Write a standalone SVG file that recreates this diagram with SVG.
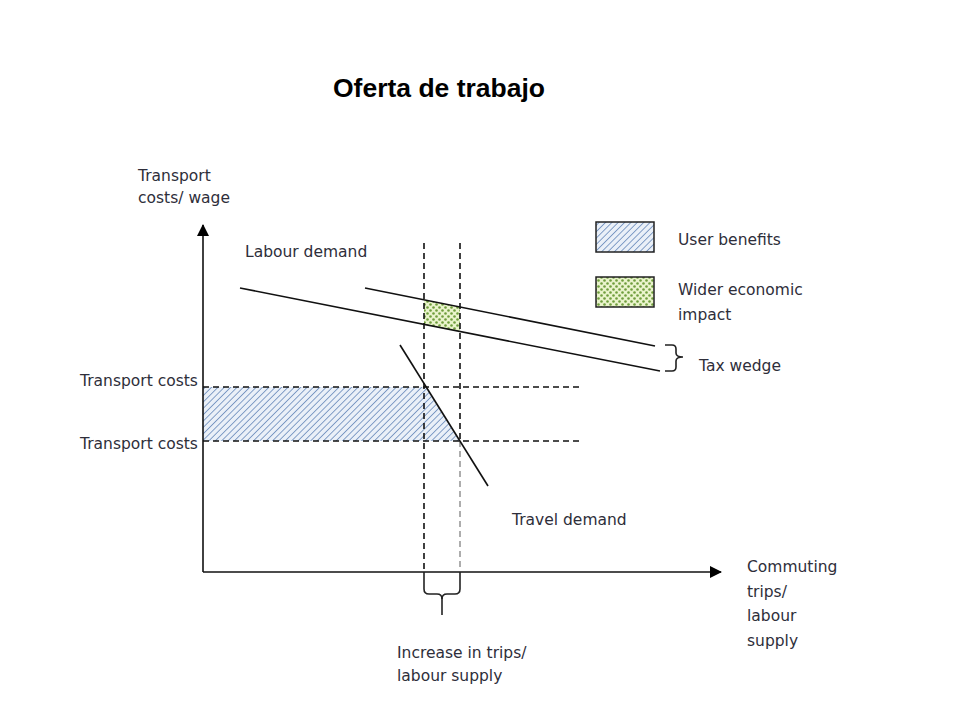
<svg xmlns="http://www.w3.org/2000/svg" width="960" height="720" viewBox="0 0 960 720">
<style>
  text { font-family: "DejaVu Sans", Verdana, sans-serif; font-size: 15.5px; fill: #2e2e3a; }
  .title { font-family: "Liberation Sans", Arial, sans-serif; font-weight: bold; font-size: 26.5px; fill: #000; }
  .solid { stroke: #111; stroke-width: 1.6; fill: none; }
  .dash { stroke: #111; stroke-width: 1.6; fill: none; stroke-dasharray: 6 4; }
  .dashg { stroke: #999; stroke-width: 1.6; fill: none; stroke-dasharray: 6 4; }
  .brace { stroke: #222; stroke-width: 1.6; fill: none; }
</style>
<defs>
  <pattern id="hatch" width="4.5" height="4.5" patternUnits="userSpaceOnUse" patternTransform="rotate(45)">
    <rect width="4.5" height="4.5" fill="#eaf0f8"/>
    <line x1="0" y1="0" x2="0" y2="4.5" stroke="#7896c2" stroke-width="1.8"/>
  </pattern>
  <pattern id="dots" width="6" height="6" patternUnits="userSpaceOnUse">
    <rect width="6" height="6" fill="#eaf4cc"/>
    <circle cx="1.5" cy="1.5" r="1.3" fill="#6f9e3c"/>
    <circle cx="4.5" cy="4.5" r="1.3" fill="#6f9e3c"/>
  </pattern>
  <marker id="arrow" viewBox="0 0 12 12" refX="11" refY="6" markerWidth="12" markerHeight="12" markerUnits="userSpaceOnUse" orient="auto">
    <path d="M0,0 L12,6 L0,12 Z" fill="#000"/>
  </marker>
</defs>

<rect width="960" height="720" fill="#fff"/>

<text class="title" x="333" y="97">Oferta de trabajo</text>

<g id="areas">
  <polygon id="user-benefits-area" points="203,387 425.6,387 459.4,441 203,441" fill="url(#hatch)"/>
  <polygon id="wider-impact-area" points="424,299.8 460,307 460,331.5 424,324.4" fill="url(#dots)"/>
</g>

<g id="connectors">
  <line class="dash" x1="424" y1="243" x2="424" y2="572"/>
  <line class="dash" x1="460" y1="243" x2="460" y2="441"/>
  <line class="dashg" x1="460" y1="441" x2="460" y2="568"/>
  <line class="dash" x1="203" y1="387" x2="580" y2="387"/>
  <line class="dash" x1="203" y1="441" x2="580" y2="441"/>
  <line id="labour-demand-low" class="solid" x1="240" y1="288" x2="660" y2="371"/>
  <line id="labour-demand-high" class="solid" x1="365" y1="288" x2="655" y2="346"/>
  <line id="travel-demand" class="solid" x1="400" y1="345" x2="488" y2="486"/>
</g>

<g id="axes">
  <line class="solid" x1="203" y1="572" x2="203" y2="225" stroke-width="1.8" marker-end="url(#arrow)"/>
  <line class="solid" x1="203" y1="572" x2="721" y2="572" stroke-width="1.8" marker-end="url(#arrow)"/>
</g>

<g id="braces">
  <path class="brace" d="M665,345 L672,345 Q676,345 676,349 L676,353 Q676,357 683,357 Q676,357 676,361 L676,367 Q676,371 672,371 L665,371"/>
  <path class="brace" d="M424,572 L424,589 Q424,594 429,594 L437,594 Q442,594 442,599 Q442,594 447,594 L455,594 Q460,594 460,589 L460,572"/>
  <line class="brace" x1="442" y1="598" x2="442" y2="615"/>
</g>

<g id="legend">
  <g id="legend-user-benefits">
    <rect x="596" y="222" width="58" height="30" fill="url(#hatch)" stroke="#222" stroke-width="1.5"/>
    <text x="678" y="245">User benefits</text>
  </g>
  <g id="legend-wider-impact">
    <rect x="596" y="277" width="58" height="30" fill="url(#dots)" stroke="#222" stroke-width="1.5"/>
    <text x="678" y="295">Wider economic</text>
    <text x="678" y="320">impact</text>
  </g>
</g>

<g id="labels">
  <text x="138" y="181">Transport</text>
  <text x="138" y="203">costs/ wage</text>
  <text x="245" y="257">Labour demand</text>
  <text x="80" y="386">Transport costs</text>
  <text x="80" y="449">Transport costs</text>
  <text x="512" y="525">Travel demand</text>
  <text x="699" y="371">Tax wedge</text>
  <text x="747" y="572">Commuting</text>
  <text x="747" y="597">trips/</text>
  <text x="747" y="621">labour</text>
  <text x="747" y="646">supply</text>
  <text x="397" y="658">Increase in trips/</text>
  <text x="397" y="681">labour supply</text>
</g>
</svg>
